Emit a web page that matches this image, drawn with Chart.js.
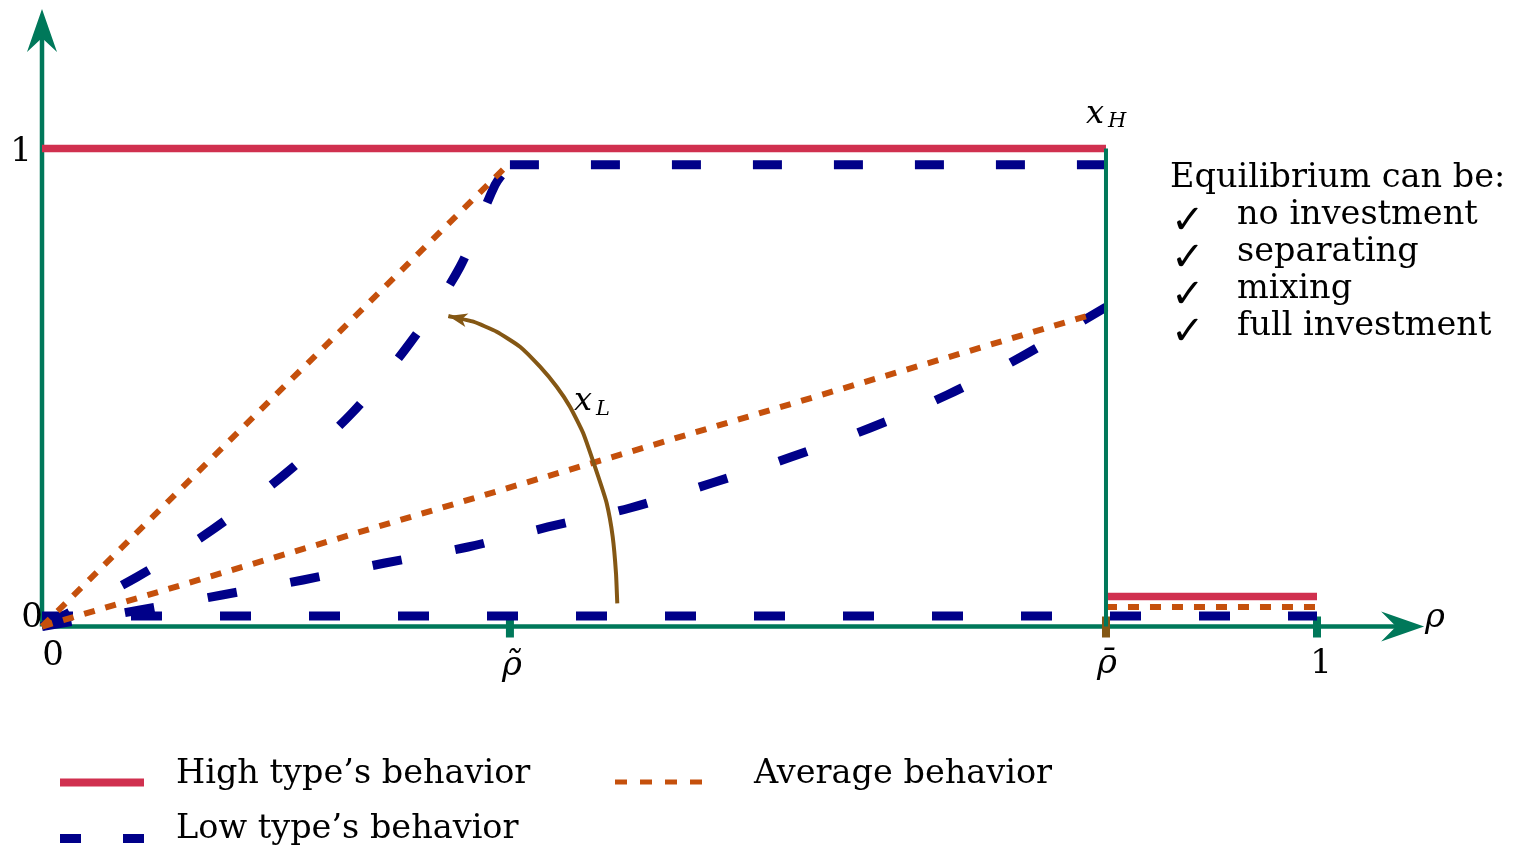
<!DOCTYPE html>
<html>
<head>
<meta charset="utf-8">
<title>Equilibrium behavior</title>
<script src="https://cdn.jsdelivr.net/npm/chart.js@4.4.1/dist/chart.umd.min.js"></script>
<style>
    html, body { margin: 0; padding: 0; background: #fff; }
    #box { width: 1517px; height: 846px; }
</style>
</head>
<body>
<div id="box"><canvas id="eq-chart" width="1517" height="846"></canvas></div>
<script>
const RHO_TILDE = 0.367
const RHO_BAR = 0.8345

// high type
const highTopX = [0, RHO_BAR]
const highTopY = [1, 1]
const highLowX = [RHO_BAR, 1]
const highLowY = [0.063, 0.063]

// jump of x_H at rho bar
const jumpX = [RHO_BAR, RHO_BAR]
const jumpY = [0, 1]

// low type
const lowZeroX = [0, 1]
const lowZeroY = [0.022, 0.022]
const lowSteepX = [0, 0.0745, 0.1333, 0.1906, 0.2424, 0.2886, 0.3278, 0.3553, RHO_TILDE]
const lowSteepY = [0, 0.1036, 0.2019, 0.319, 0.4446, 0.5931, 0.7521, 0.9236, 0.966]
const lowFlatX = [RHO_TILDE, RHO_BAR]
const lowFlatY = [0.966, 0.966]
const lowMixX = [0, 0.0769, 0.1412, 0.2047, 0.269, 0.3341, 0.3969, 0.4612, 0.5255, 0.5875, 0.6494, 0.7098, 0.7678, RHO_BAR]
const lowMixY = [0, 0.0345, 0.0659, 0.0973, 0.1328, 0.1663, 0.2082, 0.2479, 0.3002, 0.3546, 0.4153, 0.4843, 0.5638, 0.6684]

// average
const avgSteepX = [0, RHO_TILDE]
const avgSteepY = [0, 0.97]
const avgMixX = [0, 0.82]
const avgMixY = [0, 0.65]
const avgLowX = [RHO_BAR, 1]
const avgLowY = [0.041, 0.041]

// the x_L arrow
const arrowX = [0.4512, 0.4502, 0.4476, 0.4429, 0.4363, 0.4245, 0.4141, 0.4037, 0.3906, 0.3749, 0.3566, 0.3383, 0.3187]
const arrowY = [0.0485, 0.1113, 0.1879, 0.2577, 0.3134, 0.4042, 0.4598, 0.5017, 0.5435, 0.5854, 0.6167, 0.6377, 0.6496]

const AXIS_X_END = 1.084
const AXIS_Y_END = 1.292

const GREEN = '#00785a'
const RED = '#d0304f'
const BLUE = '#000089'
const ORANGE = '#c5500c'
const BROWN = '#845714'
const SERIF = '"DejaVu Serif", serif'

function pts(xs, ys) {
    return xs.map((x, i) => ({ x: x, y: ys[i] }))
}

function lineSet(label, xs, ys, color, width, dash, tension) {
    return {
        label: label,
        data: pts(xs, ys),
        showLine: true,
        borderColor: color,
        borderWidth: width,
        borderDash: dash || [],
        borderCapStyle: 'butt',
        tension: tension || 0,
        pointRadius: 0,
        clip: false,
        fill: false
    }
}

function arrowHead(ctx, tx, ty, dx, dy, len, half, notch, color) {
    const d = Math.hypot(dx, dy)
    const ux = dx / d, uy = dy / d
    const px = -uy, py = ux
    ctx.save()
    ctx.fillStyle = color
    ctx.beginPath()
    ctx.moveTo(tx, ty)
    ctx.lineTo(tx - ux * len + px * half, ty - uy * len + py * half)
    ctx.lineTo(tx - ux * (len - notch), ty - uy * (len - notch))
    ctx.lineTo(tx - ux * len - px * half, ty - uy * len - py * half)
    ctx.closePath()
    ctx.fill()
    ctx.restore()
}

function text(ctx, str, x, y, size, align, italic) {
    ctx.font = (italic ? 'italic ' : '') + size + 'px ' + SERIF
    ctx.textAlign = align || 'left'
    ctx.textBaseline = 'alphabetic'
    ctx.fillStyle = '#000'
    ctx.fillText(str, x, y)
}

const axesPlugin = {
    id: 'axes',
    beforeDatasetsDraw(chart) {
        const ctx = chart.ctx
        const xs = chart.scales.x, ys = chart.scales.y
        const x0 = xs.getPixelForValue(0), y0 = ys.getPixelForValue(0)
        const xe = xs.getPixelForValue(AXIS_X_END), ye = ys.getPixelForValue(AXIS_Y_END)
        ctx.save()
        ctx.strokeStyle = GREEN
        ctx.lineWidth = 4.5
        ctx.beginPath()
        ctx.moveTo(x0, y0)
        ctx.lineTo(xe - 28, y0)
        ctx.moveTo(x0, y0)
        ctx.lineTo(x0, ye + 29)
        ctx.stroke()
        arrowHead(ctx, xe, y0, 1, 0, 43, 15, 15, GREEN)
        arrowHead(ctx, x0, ye, 0, -1, 43, 15, 14, GREEN)

        // ticks
        const ticks = [[RHO_TILDE, GREEN], [RHO_BAR, BROWN], [1, GREEN]]
        ticks.forEach(t => {
            ctx.fillStyle = t[1]
            ctx.fillRect(xs.getPixelForValue(t[0]) - 4, y0 - 10, 8, 21)
        })
        ctx.restore()
    },
    afterDatasetsDraw(chart) {
        const ctx = chart.ctx
        const xs = chart.scales.x, ys = chart.scales.y
        const n = arrowX.length
        const tx = xs.getPixelForValue(arrowX[n - 1]), ty = ys.getPixelForValue(arrowY[n - 1])
        const sx = xs.getPixelForValue(arrowX[n - 2]), sy = ys.getPixelForValue(arrowY[n - 2])
        arrowHead(ctx, tx, ty, tx - sx, ty - sy, 19, 7, 5, BROWN)

        ctx.save()
        // tick labels
        const y0 = ys.getPixelForValue(0)
        text(ctx, '1', 21, ys.getPixelForValue(1) + 12, 34, 'center')
        text(ctx, '0', 32, y0, 34, 'center')
        text(ctx, '0', 53, y0 + 38, 34, 'center')
        text(ctx, 'ρ\u0303', xs.getPixelForValue(RHO_TILDE) + 2, y0 + 48, 34, 'center', true)
        text(ctx, 'ρ\u0304', xs.getPixelForValue(RHO_BAR) + 1, y0 + 46, 34, 'center', true)
        text(ctx, '1', xs.getPixelForValue(1) + 4, y0 + 46, 34, 'center')
        text(ctx, 'ρ', xs.getPixelForValue(AXIS_X_END) + 1, y0, 34, 'left', true)

        // curve names
        text(ctx, 'x', 1086, 123, 32, 'left', true)
        text(ctx, 'H', 1108, 127, 21, 'left', true)
        text(ctx, 'x', 574, 410, 32, 'left', true)
        text(ctx, 'L', 596, 415, 21, 'left', true)

        // equilibrium list
        text(ctx, 'Equilibrium can be:', 1170, 187, 33.5)
        const items = ['no investment', 'separating', 'mixing', 'full investment']
        items.forEach((s, i) => {
            const by = 224 + i * 37
            ctx.font = '40px "DejaVu Sans", sans-serif'
            ctx.textAlign = 'left'
            ctx.fillStyle = '#000'
            ctx.fillText('\u2713', 1171, by + 9)
            text(ctx, s, 1237, by, 33.5)
        })

        // legend
        ctx.lineCap = 'butt'
        ctx.strokeStyle = RED
        ctx.lineWidth = 8
        ctx.setLineDash([])
        ctx.beginPath(); ctx.moveTo(60, 782.5); ctx.lineTo(144, 782.5); ctx.stroke()
        ctx.strokeStyle = BLUE
        ctx.lineWidth = 9
        ctx.setLineDash([21, 42])
        ctx.beginPath(); ctx.moveTo(60, 838.5); ctx.lineTo(144, 838.5); ctx.stroke()
        ctx.strokeStyle = ORANGE
        ctx.lineWidth = 5
        ctx.setLineDash([12, 13])
        ctx.beginPath(); ctx.moveTo(615, 782); ctx.lineTo(702, 782); ctx.stroke()
        ctx.setLineDash([])
        text(ctx, 'High type’s behavior', 176, 783, 33.5)
        text(ctx, 'Low type’s behavior', 176, 838, 33.5)
        text(ctx, 'Average behavior', 754, 783, 33.5)
        ctx.restore()
    }
}

const datasets = [
    lineSet('xL arrow', arrowX, arrowY, BROWN, 4, null, 0.15),
    lineSet('jump', jumpX, jumpY, GREEN, 4),
    lineSet('Average behavior', avgSteepX, avgSteepY, ORANGE, 6, [11, 11]),
    lineSet('Average mixing', avgMixX, avgMixY, ORANGE, 6, [11, 11]),
    lineSet('Average low', avgLowX, avgLowY, ORANGE, 6, [11, 11]),
    lineSet('High type', highTopX, highTopY, RED, 7.5),
    lineSet('High type low', highLowX, highLowY, RED, 7.5),
    lineSet('Low type', lowZeroX, lowZeroY, BLUE, 9, [31, 58]),
    lineSet('Low steep', lowSteepX, lowSteepY, BLUE, 9, [31, 59], 0.3),
    lineSet('Low flat', lowFlatX, lowFlatY, BLUE, 9, [29, 52]),
    lineSet('Low mixing', lowMixX, lowMixY, BLUE, 9, [30, 54], 0.3)
]

const config = {
    type: 'scatter',
    data: { datasets: datasets },
    options: {
        responsive: false,
        animation: false,
        layout: { padding: { left: 42, right: 8.75, top: 0, bottom: 219.5 } },
        scales: {
            x: { type: 'linear', min: 0, max: 1.15, display: false },
            y: { type: 'linear', min: 0, max: 1.3107, display: false }
        },
        plugins: {
            legend: { display: false },
            tooltip: { enabled: false }
        }
    },
    plugins: [axesPlugin]
}

const eqChart = new Chart(document.getElementById('eq-chart'), config)
</script>
</body>
</html>
